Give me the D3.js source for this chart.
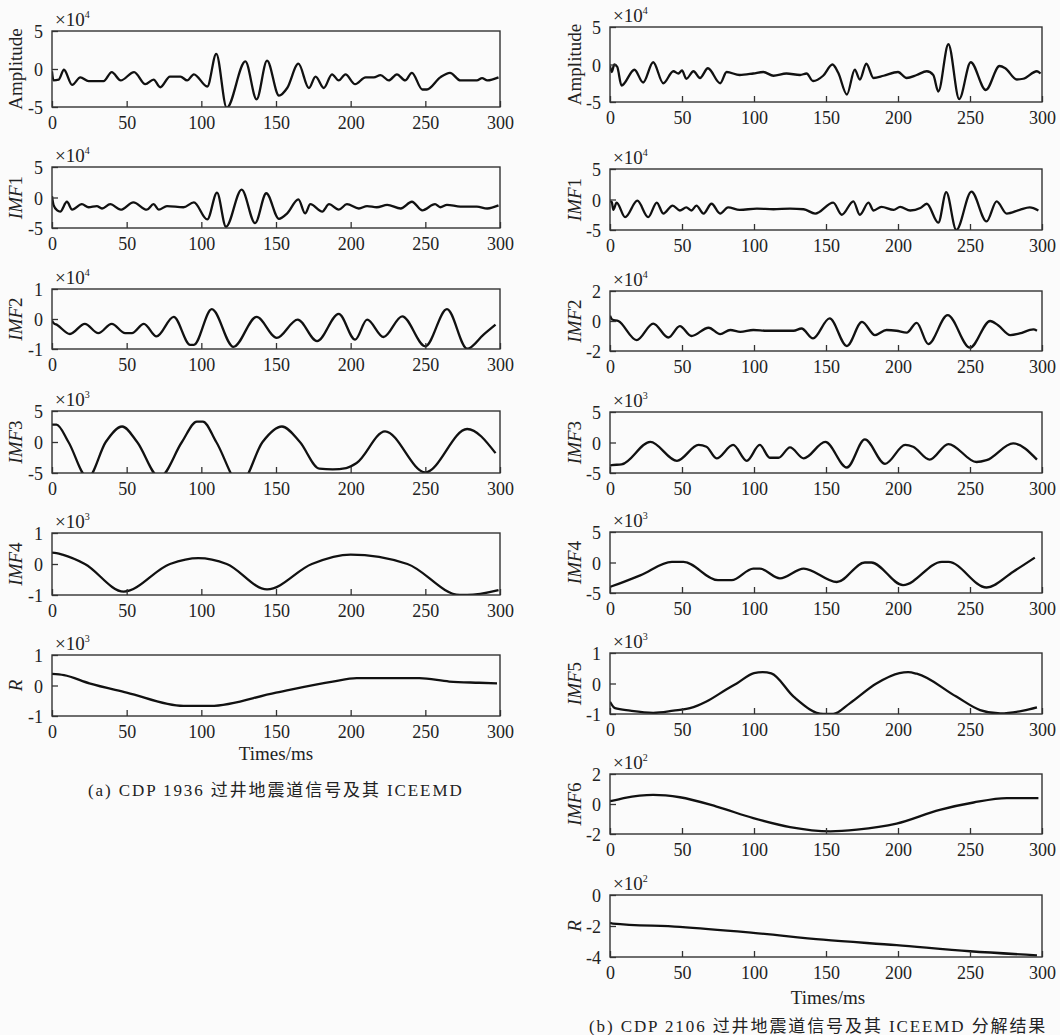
<!DOCTYPE html>
<html>
<head>
<meta charset="utf-8">
<script src="https://cdn.jsdelivr.net/npm/d3@7"></script>
<style>
  body { margin: 0; background: #fbfbfb; }
  text { fill: #222; }
</style>
</head>
<body>
<div id="chart"></div>

<script>

    // time axis (ms)
    var timeTicks = [0, 50, 100, 150, 200, 250, 300];

    // y tick values
    var ticks5 = [-5, 0, 5];
    var ticks2 = [-2, 0, 2];
    var ticks1 = [-1, 0, 1];
    var ticksR = [-4, -2, 0];

    // (a) CDP 1936 -- [time, value]
    var leftAmp = [[0,-0.3],[1,-1.5],[4.5,-1.4],[8,-0.1],[13.5,-2.1],[19,-1.1],[24.5,-1.6],[34.5,-1.6],[40,-0.4],[46,-1.5],[55,-0.4],[62.5,-2.0],[68,-1.4],[72.5,-2.4],[79,-1.0],[86,-1.0],[90.5,-1.5],[95,-0.7],[104,-2.3],[110,2.0],[117,-5.1],[129.5,1.0],[137,-4.0],[144,1.1],[152,-3.5],[157.5,-2.5],[165,0.7],[172,-2.5],[176.5,-1.0],[182,-2.5],[187.5,-0.7],[192,-1.5],[196.5,-0.7],[203,-2.0],[210,-1.1],[215.5,-1.1],[220,-0.8],[225.5,-1.5],[231,-0.7],[236.5,-1.5],[241,-0.5],[248,-2.7],[251,-2.7],[260,-1.1],[266.5,-0.5],[273.5,-1.5],[284.5,-1.5],[288,-1.2],[291.5,-1.5],[299,-1.1]];
    var leftImf1 = [[0,0.2],[1,-1.2],[3.5,-2.1],[5.5,-2.3],[10,-0.7],[13.5,-2.0],[20,-1.1],[24.5,-1.6],[30,-1.4],[33.5,-1.8],[39,-1.1],[46,-2.0],[54.5,-0.8],[63.5,-2.0],[68,-1.1],[71.5,-2.0],[77,-1.4],[88,-1.6],[95,-0.8],[104,-3.6],[110.5,0.8],[116.5,-4.8],[127,1.3],[136,-4.2],[143.5,0.7],[152,-3.5],[157.5,-2.6],[165,-0.3],[169.5,-2.6],[173,-1.1],[181,-2.3],[185.5,-1.1],[192,-2.0],[197.5,-1.1],[205.5,-1.8],[211,-1.4],[217.5,-1.6],[224.5,-1.2],[233.5,-1.8],[241,-0.7],[248,-2.1],[256.5,-1.1],[260,-1.6],[264.5,-1.2],[273.5,-1.5],[284.5,-1.5],[291.5,-1.8],[299,-1.3]];
    var leftImf2 = [[0,-0.05],[1,-0.13],[3.5,-0.2],[12,-0.5],[22,-0.16],[31,-0.47],[40,-0.16],[49,-0.47],[53.5,-0.47],[61.5,-0.16],[70,-0.58],[81.5,0.07],[92.5,-0.86],[95,-0.86],[107,0.33],[121.5,-0.93],[137,0.07],[150.5,-0.63],[164.5,-0.02],[177.5,-0.74],[192,0.17],[203,-0.69],[211,-0.02],[222,-0.6],[234.5,0.09],[250,-0.91],[264.5,0.33],[278,-0.99],[289,-0.52],[297,-0.19]];
    var leftImf3 = [[0,2.8],[3,2.8],[11,0],[24,-5.8],[36,0],[47,2.5],[57,0],[72,-5.7],[87,0],[97,3.3],[101,3.3],[110,0],[126,-6.8],[141,0],[154,2.5],[166,0],[179,-4.3],[188,-4.4],[197,-4.2],[204,-3.4],[223,1.7],[250,-4.9],[278,2.1],[297,-1.8]];
    var leftImf4 = [[0,0.37],[3,0.35],[7,0.3],[22,0],[48,-0.89],[79,0],[98,0.19],[117,0],[144,-0.82],[174,0],[200,0.3],[238,0],[273,-1.0],[278,-1.0],[299,-0.84]];
    var leftRes = [[0,0.38],[8,0.34],[25,0.07],[50,-0.23],[88,-0.67],[106,-0.67],[150,-0.23],[188,0.13],[204,0.24],[246,0.24],[266,0.13],[286,0.09],[298,0.07]];

    // (b) CDP 2106
    var rightAmp = [[0,-0.2],[1.2,-1.0],[3,0.0],[5,-0.3],[8,-2.8],[17,-0.7],[23,-2.4],[30,0.3],[37,-2.5],[44,-0.9],[47.5,-1.2],[50,-0.8],[53,-1.9],[58,-0.9],[62.5,-1.8],[68,-0.5],[76.5,-2.5],[81,-1.0],[90,-1.4],[99.5,-1.2],[106.5,-1.0],[113.5,-1.5],[122.5,-1.2],[132,-1.4],[136.5,-1.2],[141,-2.2],[148,-1.5],[154.5,0],[158.5,-1.1],[164.5,-4.0],[170,-0.7],[173.5,-2.0],[178,0.1],[183,-1.8],[190,-1.5],[200,-1.0],[206,-1.8],[213,-1.4],[220,-0.9],[224.5,-1.4],[228,-3.6],[235,2.7],[242.5,-4.6],[250.5,0.3],[261,-3.4],[270.5,-0.2],[274.5,-0.5],[282.5,-2.0],[287,-1.9],[296.5,-0.9],[299,-1.2]];
    var rightImf1 = [[0,-0.3],[1.2,-0.4],[2.3,-1.7],[4.6,-0.5],[10.5,-2.9],[19,-0.2],[26.5,-2.9],[32.5,-0.5],[37,-2.3],[43.5,-1.0],[48.5,-1.8],[53,-1.3],[56.5,-1.8],[60,-1.0],[65,-2.3],[70.5,-0.7],[76.5,-2.3],[82,-1.3],[90,-1.7],[102,-1.5],[113.5,-1.6],[125,-1.5],[134.5,-1.6],[142.5,-2.3],[155,-0.5],[161,-2.5],[169,-0.3],[173.5,-2.5],[179.5,-0.5],[183,-1.8],[188.5,-1.2],[197,-1.7],[201.5,-1.2],[208.5,-1.8],[215.5,-1.4],[220,-0.7],[228,-3.8],[233.5,1.2],[240.5,-5.0],[251,1.3],[261.5,-3.6],[268.5,-0.3],[275.5,-2.3],[284.5,-1.7],[291.5,-1.3],[297.5,-1.8]];
    var rightImf2 = [[0,0.35],[1.5,0.1],[5.8,0],[18.5,-1.27],[30,-0.17],[40.5,-1.1],[48.5,-0.34],[56.5,-1.0],[68.5,-0.45],[76.5,-0.87],[83.5,-0.6],[90.5,-0.72],[99.5,-0.6],[109,-0.65],[118,-0.65],[127.5,-0.65],[133,-0.5],[141,-1.16],[152.5,0.17],[164.5,-1.67],[175,-0.06],[184,-0.94],[192,-0.6],[199,-0.65],[206,-0.78],[213,-0.12],[221,-1.54],[234.5,0.39],[250,-1.78],[264,0],[269.5,-0.28],[278,-0.94],[284.5,-0.83],[294,-0.56],[296.5,-0.65]];
    var rightImf3 = [[0,-3.8],[1.2,-3.7],[8,-3.6],[28,0.1],[46.5,-3.0],[61.5,-0.4],[67,-0.7],[74,-2.6],[85.5,-0.4],[95,-3.0],[104,-0.4],[111,-2.5],[117,-2.5],[125,-0.8],[134.5,-2.6],[149.5,0.1],[164.5,-4.1],[177,0.5],[191,-3.5],[205,-0.4],[210.5,-0.7],[222,-2.8],[235,-0.25],[254.5,-3.2],[261.5,-2.9],[280,-0.15],[296.5,-2.8]];
    var rightImf4 = [[0,-4.0],[1.2,-3.9],[21,-2.1],[43,0.1],[51,0.1],[75,-2.9],[84.5,-2.9],[99.5,-1.0],[104,-1.0],[118,-2.6],[134.5,-1.0],[157.5,-3.2],[177,0],[181.5,0],[203.5,-3.7],[230.5,0.1],[235,0.1],[261.5,-4.1],[280,-1.5],[295,0.8]];
    var rightImf5 = [[0,-0.6],[3.5,-0.81],[14,-0.89],[30,-0.96],[44,-0.89],[55.5,-0.81],[67,-0.59],[81,-0.19],[88,0],[100,0.34],[106,0.37],[112,0.33],[127.5,-0.43],[148,-1.0],[155,-1.0],[166.5,-0.65],[185,0],[201,0.34],[207,0.37],[213,0.32],[240.5,-0.43],[257,-0.87],[271,-0.98],[287,-0.89],[296.5,-0.78]];
    var rightImf6 = [[0,0.2],[2,0.23],[9.5,0.39],[30,0.61],[48.5,0.45],[74,-0.17],[99.5,-0.94],[125,-1.54],[153,-1.82],[171.5,-1.71],[199,-1.31],[229,-0.39],[252.5,0.1],[275.5,0.39],[297.5,0.39]];
    var rightRes = [[0,-1.8],[2,-1.84],[48.5,-2.05],[99.5,-2.44],[148,-2.88],[199,-3.24],[250,-3.63],[296.5,-3.89]];

    var leftNames = ['Amplitude', 'IMF1', 'IMF2', 'IMF3', 'IMF4', 'R'];
    var rightNames = ['Amplitude', 'IMF1', 'IMF2', 'IMF3', 'IMF4', 'IMF5', 'IMF6', 'R'];
    var leftExp = [4, 4, 4, 3, 3, 3];
    var rightExp = [4, 4, 4, 3, 3, 3, 2, 2];
    var leftSeries = [leftAmp, leftImf1, leftImf2, leftImf3, leftImf4, leftRes];
    var rightSeries = [rightAmp, rightImf1, rightImf2, rightImf3, rightImf4, rightImf5, rightImf6, rightRes];
    var leftYTicks = [ticks5, ticks5, ticks1, ticks5, ticks1, ticks1];
    var rightYTicks = [ticks5, ticks5, ticks2, ticks5, ticks5, ticks1, ticks2, ticksR];

    // layout (pixels)
    var leftTops = [31, 167, 289, 411, 533, 655];
    var leftBottoms = [107, 228, 349, 473, 595, 716];
    var rightTops = [27, 169, 291, 412, 532, 653, 774, 895];
    var rightBottoms = [102, 230, 351, 473, 593, 714, 834, 957];

    var serif = '"Liberation Serif", "Times New Roman", serif';

    var svg = d3.select('#chart').append('svg')
        .attr('width', 1060)
        .attr('height', 1035)
        .style('background', '#fbfbfb');

    var line = d3.line()
        .x(function(d) { return d[0]; })
        .y(function(d) { return d[1]; })
        .curve(d3.curveMonotoneX);

    var clipId = 0;

    function drawPanel(x0, x1, top, bottom, data, yTicks, name, exp, titleX) {
        var xScale = d3.scaleLinear().domain([0, 300]).range([x0, x1]);
        var yScale = d3.scaleLinear().domain(d3.extent(yTicks)).range([bottom, top]);

        var g = svg.append('g');

        clipId++;
        svg.append('clipPath').attr('id', 'clip' + clipId)
            .append('rect')
            .attr('x', x0).attr('y', top)
            .attr('width', x1 - x0).attr('height', bottom - top);

        g.append('path')
            .datum(data.map(function(d) { return [xScale(d[0]), yScale(d[1])]; }))
            .attr('clip-path', 'url(#clip' + clipId + ')')
            .attr('fill', 'none')
            .attr('stroke', '#111')
            .attr('stroke-width', 2.3)
            .attr('stroke-linejoin', 'round')
            .attr('d', line);

        // bottom axis, ticks pointing in
        var xa = g.append('g')
            .attr('transform', 'translate(0,' + bottom + ')')
            .call(d3.axisBottom(xScale).tickValues(timeTicks).tickSize(-6).tickPadding(9));
        // left axis, plain hyphen for negatives
        var ya = g.append('g')
            .attr('transform', 'translate(' + x0 + ',0)')
            .call(d3.axisLeft(yScale).tickValues(yTicks).tickSize(-6).tickPadding(9)
                .tickFormat(function(d) { return String(d); }));

        [xa, ya].forEach(function(a) {
            a.attr('font-family', serif).attr('font-size', 18);
            a.select('.domain').remove();
            a.selectAll('.tick line').attr('stroke', '#333').attr('stroke-width', 1.3);
            a.selectAll('.tick text').attr('fill', '#222');
        });
        ya.selectAll('.tick text').attr('dy', '0.38em');

        g.append('rect')
            .attr('x', x0).attr('y', top)
            .attr('width', x1 - x0).attr('height', bottom - top)
            .attr('fill', 'none')
            .attr('stroke', '#333')
            .attr('stroke-width', 1.4);

        // multiplier
        var m = g.append('text')
            .attr('x', x0 + 3).attr('y', top - 5)
            .attr('font-family', serif).attr('font-size', 19)
            .text('\u00d710');
        m.append('tspan').attr('dy', -8).attr('font-size', 10).text(exp);

        // y title
        var t = g.append('text')
            .attr('transform', 'translate(' + titleX + ',' + ((top + bottom) / 2) + ') rotate(-90)')
            .attr('text-anchor', 'middle')
            .attr('font-family', serif).attr('font-size', 19);
        if (name.indexOf('IMF') === 0) {
            t.append('tspan').attr('font-style', 'italic').text('IMF');
            t.append('tspan').text(name.slice(3));
        } else if (name === 'R') {
            t.append('tspan').attr('font-style', 'italic').text('R');
        } else {
            t.text(name);
        }
    }

    leftSeries.forEach(function(s, i) {
        drawPanel(52, 500, leftTops[i], leftBottoms[i], s, leftYTicks[i], leftNames[i], leftExp[i], 22);
    });
    rightSeries.forEach(function(s, i) {
        drawPanel(610, 1042, rightTops[i], rightBottoms[i], s, rightYTicks[i], rightNames[i], rightExp[i], 581);
    });

    // x titles
    svg.append('text').attr('x', 276).attr('y', 760)
        .attr('text-anchor', 'middle').attr('font-family', serif).attr('font-size', 19)
        .text('Times/ms');
    svg.append('text').attr('x', 828).attr('y', 1004)
        .attr('text-anchor', 'middle').attr('font-family', serif).attr('font-size', 19)
        .text('Times/ms');

    // captions
    svg.append('text').attr('x', 88).attr('y', 796)
        .attr('font-family', serif + ', "Noto Sans CJK SC"').attr('font-size', 17)
        .attr('letter-spacing', 1.9)
        .attr('fill', '#333')
        .text('(a) CDP 1936 过井地震道信号及其 ICEEMD');
    svg.append('text').attr('x', 589).attr('y', 1032)
        .attr('font-family', serif + ', "Noto Sans CJK SC"').attr('font-size', 17)
        .attr('letter-spacing', 1.9)
        .attr('fill', '#333')
        .text('(b) CDP 2106 过井地震道信号及其 ICEEMD 分解结果');

</script>
</body>
</html>
